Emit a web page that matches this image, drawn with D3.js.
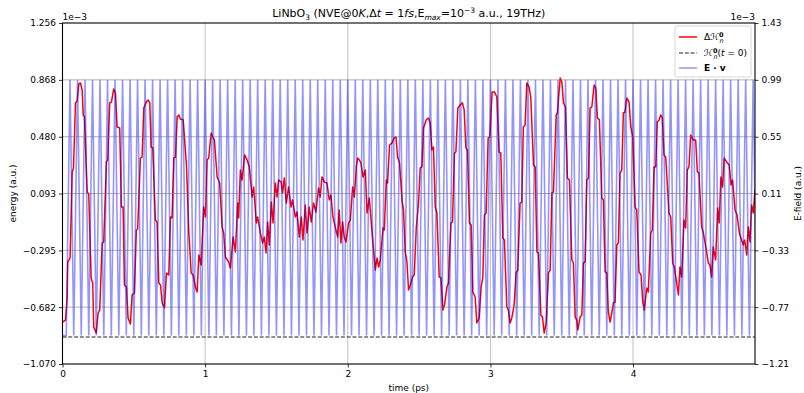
<!DOCTYPE html>
<html>
<head>
<meta charset="utf-8">
<script src="https://cdn.jsdelivr.net/npm/d3@7/dist/d3.min.js"></script>
<style>
  body { margin: 0; background: #fff; }
  svg { font-family: "DejaVu Sans", sans-serif; }
</style>
</head>
<body>
<div class="svgContainer"></div>
<script>
// axis ticks (energy and field in units of 1e-3)
const timeTicks = [0, 1, 2, 3, 4];
const energyTicks = [-1.070, -0.682, -0.295, 0.093, 0.480, 0.868, 1.256];
const fieldTicks = [-1.21, -0.77, -0.33, 0.11, 0.55, 0.99, 1.43];
const timeMax = 4.855;

// ΔH_n^0 (red)
const energyTime = [
  0.000,0.021,0.032,0.037,0.053,0.068,0.077,0.091,0.103,0.114,
  0.126,0.138,0.145,0.154,0.173,0.184,0.201,0.212,0.219,0.236,
  0.250,0.261,0.278,0.289,0.308,0.317,0.331,0.343,0.359,0.371,
  0.383,0.401,0.413,0.425,0.434,0.448,0.460,0.476,0.488,0.504,
  0.518,0.527,0.546,0.558,0.570,0.588,0.600,0.612,0.621,0.633,
  0.651,0.663,0.675,0.687,0.699,0.715,0.729,0.745,0.757,0.768,
  0.780,0.792,0.804,0.815,0.827,0.846,0.869,0.885,0.902,0.916,
  0.932,0.944,0.956,0.972,0.990,1.002,1.014,1.025,1.042,1.053,
  1.065,1.084,1.102,1.119,1.130,1.142,1.165,1.177,1.196,1.212,
  1.228,1.235,1.247,1.259,1.277,1.294,1.310,1.329,1.340,1.359,
  1.368,1.387,1.403,1.415,1.427,1.438,1.450,1.464,1.476,1.492,
  1.504,1.515,1.532,1.543,1.555,1.569,1.585,1.602,1.613,1.632,
  1.644,1.660,1.674,1.686,1.702,1.714,1.730,1.744,1.760,1.777,
  1.795,1.807,1.819,1.835,1.854,1.870,1.882,1.896,1.912,1.929,
  1.940,1.952,1.964,1.975,1.987,2.006,2.018,2.034,2.046,2.060,
  2.069,2.081,2.092,2.107,2.123,2.135,2.151,2.170,2.181,2.193,
  2.205,2.216,2.228,2.247,2.256,2.270,2.279,2.293,2.310,2.326,
  2.338,2.349,2.363,2.380,2.391,2.403,2.415,2.426,2.443,2.454,
  2.466,2.480,2.496,2.508,2.520,2.531,2.550,2.566,2.578,2.590,
  2.601,2.613,2.625,2.641,2.653,2.667,2.678,2.695,2.706,2.723,
  2.734,2.748,2.758,2.772,2.788,2.804,2.816,2.828,2.839,2.853,
  2.865,2.877,2.893,2.905,2.921,2.935,2.947,2.958,2.970,2.984,
  2.996,3.012,3.028,3.045,3.061,3.073,3.087,3.098,3.115,3.126,
  3.138,3.150,3.166,3.180,3.192,3.208,3.220,3.231,3.243,3.255,
  3.271,3.283,3.302,3.314,3.326,3.337,3.354,3.365,3.377,3.391,
  3.407,3.419,3.431,3.442,3.461,3.470,3.489,3.501,3.512,3.526,
  3.540,3.554,3.571,3.582,3.594,3.606,3.613,3.629,3.641,3.652,
  3.664,3.676,3.687,3.699,3.711,3.727,3.739,3.750,3.764,3.781,
  3.792,3.804,3.816,3.827,3.839,3.851,3.862,3.874,3.886,3.897,
  3.909,3.921,3.932,3.944,3.956,3.972,3.984,3.998,4.014,4.026,
  4.042,4.056,4.068,4.079,4.096,4.107,4.124,4.135,4.147,4.159,
  4.170,4.182,4.194,4.205,4.217,4.229,4.252,4.264,4.278,4.289,
  4.306,4.318,4.329,4.341,4.357,4.369,4.380,4.392,4.404,4.422,
  4.439,4.451,4.462,4.481,4.493,4.516,4.528,4.539,4.551,4.562,
  4.579,4.593,4.604,4.616,4.628,4.639,4.656,4.674,4.687,4.698,
  4.715,4.729,4.745,4.761,4.773,4.782,4.797,4.808,4.820,4.831,
  4.843,4.855
];
const energyValues = [
  -0.784,-0.770,-0.633,-0.374,-0.347,0.240,0.267,0.711,0.724,0.840,
  0.847,0.799,0.629,0.615,0.103,0.090,-0.483,-0.517,-0.818,-0.859,
  -0.722,-0.702,-0.245,-0.238,0.308,0.322,0.711,0.717,0.806,0.779,
  0.547,0.540,0.001,0.001,-0.531,-0.545,-0.756,-0.797,-0.599,-0.586,
  -0.156,-0.149,0.335,0.342,0.676,0.717,0.731,0.711,0.410,0.404,
  -0.088,-0.101,-0.517,-0.531,-0.654,-0.688,-0.449,-0.463,-0.067,-0.074,
  0.335,0.342,0.615,0.629,0.601,0.595,0.288,-0.156,-0.449,-0.463,
  -0.545,-0.579,-0.326,-0.395,0.001,-0.067,0.322,0.335,0.506,0.479,
  0.458,0.206,0.165,-0.135,-0.176,-0.340,-0.374,-0.415,-0.204,-0.306,
  0.028,-0.074,0.253,0.185,0.356,0.322,0.274,0.069,0.137,-0.108,
  -0.067,-0.176,-0.245,-0.204,-0.313,-0.101,-0.258,0.035,-0.108,0.165,
  0.069,0.185,0.172,0.097,0.199,0.028,0.137,0.001,0.049,-0.067,
  -0.033,-0.204,-0.067,-0.224,0.015,-0.176,0.001,-0.101,0.028,-0.033,
  0.131,0.069,0.206,0.172,0.165,0.049,0.083,-0.067,-0.135,-0.204,
  -0.019,-0.245,-0.101,-0.204,-0.238,-0.108,-0.088,0.137,0.069,0.274,
  0.335,0.322,0.301,0.206,0.253,-0.040,0.062,-0.170,-0.292,-0.429,
  -0.347,-0.408,-0.360,-0.142,-0.156,0.185,0.165,0.424,0.438,0.472,
  0.479,0.342,0.301,0.049,-0.019,-0.306,-0.374,-0.565,-0.517,-0.477,
  -0.463,-0.142,0.028,0.267,0.274,0.540,0.595,0.608,0.574,0.390,
  0.410,0.001,-0.040,-0.477,-0.483,-0.702,-0.668,-0.545,-0.517,-0.108,
  -0.101,0.369,0.376,0.676,0.697,0.711,0.663,0.404,0.390,-0.108,
  -0.122,-0.579,-0.613,-0.790,-0.756,-0.545,-0.477,-0.054,-0.040,0.472,
  0.479,0.786,0.786,0.751,0.376,0.369,-0.210,-0.224,-0.681,-0.702,
  -0.790,-0.756,-0.668,-0.449,-0.429,0.028,0.035,0.547,0.560,0.847,
  0.820,0.751,0.288,0.274,-0.306,-0.313,-0.736,-0.749,-0.859,-0.790,
  -0.449,-0.429,0.097,0.103,0.629,0.642,0.881,0.854,0.711,0.683,
  0.199,0.185,-0.360,-0.381,-0.749,-0.770,-0.838,-0.749,-0.736,-0.381,
  -0.374,0.185,0.199,0.676,0.683,0.833,0.813,0.608,0.595,0.062,
  0.049,-0.442,-0.449,-0.715,-0.784,-0.722,-0.654,-0.647,-0.258,-0.245,
  0.233,0.253,0.642,0.649,0.745,0.717,0.547,0.479,0.001,-0.019,
  -0.442,-0.463,-0.647,-0.702,-0.552,-0.579,-0.176,-0.156,0.274,0.274,
  0.581,0.595,0.629,0.608,0.356,0.342,-0.040,-0.067,-0.381,-0.408,
  -0.517,-0.599,-0.408,-0.477,-0.088,-0.142,0.253,0.274,0.492,0.458,
  0.458,0.240,0.233,-0.135,-0.176,-0.306,-0.381,-0.395,-0.477,-0.272,
  -0.360,-0.006,-0.108,0.206,0.137,0.335,0.308,0.288,0.151,0.185,
  -0.019,-0.054,-0.176,-0.224,-0.258,-0.224,-0.326,-0.135,-0.238,0.015,
  -0.040,0.117
];
// H_n^0(t=0) reference level (dashed)
const energyRef = -0.886;

// E·v (blue), sampled every half period of the 19 THz field
const fieldStep = 0.026316;
const fieldValues = [
  -0.99,-0.99,0.99,-0.99,0.99,-0.99,0.99,-0.99,0.99,-0.99,
  0.99,-0.99,0.99,-0.99,0.99,-0.99,0.99,-0.99,0.99,-0.99,
  0.99,-0.99,0.99,-0.99,0.99,-0.99,0.99,-0.99,0.99,-0.99,
  0.99,-0.99,0.99,-0.99,0.99,-0.99,0.99,-0.99,0.99,-0.99,
  0.99,-0.99,0.99,-0.99,0.99,-0.99,0.99,-0.99,0.99,-0.99,
  0.99,-0.99,0.99,-0.99,0.99,-0.99,0.99,-0.99,0.99,-0.99,
  0.99,-0.99,0.99,-0.99,0.99,-0.99,0.99,-0.99,0.99,-0.99,
  0.99,-0.99,0.99,-0.99,0.99,-0.99,0.99,-0.99,0.99,-0.99,
  0.99,-0.99,0.99,-0.99,0.99,-0.99,0.99,-0.99,0.99,-0.99,
  0.99,-0.99,0.99,-0.99,0.99,-0.99,0.99,-0.99,0.99,-0.99,
  0.99,-0.99,0.99,-0.99,0.99,-0.99,0.99,-0.99,0.99,-0.99,
  0.99,-0.99,0.99,-0.99,0.99,-0.99,0.99,-0.99,0.99,-0.99,
  0.99,-0.99,0.99,-0.99,0.99,-0.99,0.99,-0.99,0.99,-0.99,
  0.99,-0.99,0.99,-0.99,0.99,-0.99,0.99,-0.99,0.99,-0.99,
  0.99,-0.99,0.99,-0.99,0.99,-0.99,0.99,-0.99,0.99,-0.99,
  0.99,-0.99,0.99,-0.99,0.99,-0.99,0.99,-0.99,0.99,-0.99,
  0.99,-0.99,0.99,-0.99,0.99,-0.99,0.99,-0.99,0.99,-0.99,
  0.99,-0.99,0.99,-0.99,0.99,-0.99,0.99,-0.99,0.99,-0.99,
  0.99,-0.99,0.99,-0.99,0.99,-0.99
];

const width = 804;
const height = 393;
const margin = {left: 62.5, right: 49, top: 23, bottom: 29};
const plotW = width - margin.left - margin.right;
const plotH = height - margin.top - margin.bottom;

const svg = d3.select('.svgContainer').append('svg')
  .attr('width', width)
  .attr('height', height);

const scaleX = d3.scaleLinear().domain([0, timeMax]).range([0, plotW]);
const scaleY = d3.scaleLinear().domain([energyTicks[0], energyTicks[6]]).range([plotH, 0]);
const scaleY2 = d3.scaleLinear().domain([fieldTicks[0], fieldTicks[6]]).range([plotH, 0]);

const minus = s => s.replace('-', '\u2212');

svg.append('clipPath').attr('id', 'plotClip')
  .append('rect').attr('width', plotW).attr('height', plotH);

const g = svg.append('g')
  .attr('transform', 'translate(' + margin.left + ',' + margin.top + ')');

// vertical grid
g.append('g').selectAll('line')
  .data(timeTicks.slice(1))
  .enter().append('line')
  .attr('x1', d => scaleX(d)).attr('x2', d => scaleX(d))
  .attr('y1', 0).attr('y2', plotH)
  .attr('stroke', '#b0b0b0').attr('stroke-width', 0.8);

const body = g.append('g').attr('clip-path', 'url(#plotClip)');

// red energy line
const energyData = energyTime.map((t, i) => ({t: t, v: energyValues[i]}));
body.append('path')
  .datum(energyData)
  .attr('fill', 'none')
  .attr('stroke', '#ff0000')
  .attr('stroke-width', 1.5)
  .attr('stroke-linejoin', 'round')
  .attr('d', d3.line().x(d => scaleX(d.t)).y(d => scaleY(d.v)));

// dashed reference
body.append('line')
  .attr('x1', scaleX(0)).attr('x2', scaleX(timeMax))
  .attr('y1', scaleY(energyRef)).attr('y2', scaleY(energyRef))
  .attr('stroke', '#222').attr('stroke-width', 1.2)
  .attr('stroke-dasharray', '4,1.8');

// blue E.v
const fieldData = fieldValues.map((v, i) => ({t: i * fieldStep, v: v}));
body.append('path')
  .datum(fieldData)
  .attr('fill', 'none')
  .attr('stroke', '#0000ff')
  .attr('stroke-opacity', 0.42)
  .attr('stroke-width', 1.6)
  .attr('d', d3.line().x(d => scaleX(d.t)).y(d => scaleY2(d.v)));

// horizontal grid (drawn over the lines)
g.append('g').selectAll('line')
  .data(energyTicks.slice(1, 6))
  .enter().append('line')
  .attr('x1', 0).attr('x2', plotW)
  .attr('y1', d => scaleY(d)).attr('y2', d => scaleY(d))
  .attr('stroke', '#707070').attr('stroke-opacity', 0.7).attr('stroke-width', 0.8);

// axes
const styleAxis = sel => {
  sel.select('.domain').remove();
  sel.selectAll('.tick line').attr('stroke', '#000').attr('stroke-width', 0.8);
  sel.selectAll('.tick text').attr('fill', '#000').style('font-size', '9px')
    .style('font-family', '"DejaVu Sans", sans-serif');
};

g.append('g')
  .attr('transform', 'translate(0,' + plotH + ')')
  .call(d3.axisBottom(scaleX).tickValues(timeTicks).tickSize(3.5).tickPadding(3).tickFormat(d3.format('d')))
  .call(styleAxis);

g.append('g')
  .call(d3.axisLeft(scaleY).tickValues(energyTicks).tickSize(3.5).tickPadding(3)
    .tickFormat(d => minus(d.toFixed(3))))
  .call(styleAxis);

g.append('g')
  .attr('transform', 'translate(' + plotW + ',0)')
  .call(d3.axisRight(scaleY2).tickValues(fieldTicks).tickSize(3.5).tickPadding(3)
    .tickFormat(d => minus(d.toFixed(2))))
  .call(styleAxis);

// spines
g.append('rect')
  .attr('width', plotW).attr('height', plotH)
  .attr('fill', 'none').attr('stroke', '#000').attr('stroke-width', 1.1);

// offset texts
g.append('text').attr('x', 0).attr('y', -3)
  .style('font-size', '9px').text('1e\u22123');
g.append('text').attr('x', plotW).attr('y', -3)
  .attr('text-anchor', 'end').style('font-size', '9px').text('1e\u22123');

// labels
svg.append('text')
  .attr('x', margin.left + plotW / 2).attr('y', 391)
  .attr('text-anchor', 'middle').style('font-size', '9px')
  .text('time (ps)');

svg.append('text')
  .attr('transform', 'translate(16,' + (margin.top + plotH / 2) + ') rotate(-90)')
  .attr('text-anchor', 'middle').style('font-size', '9px')
  .text('energy (a.u.)');

svg.append('text')
  .attr('transform', 'translate(801,' + (margin.top + plotH / 2) + ') rotate(-90)')
  .attr('text-anchor', 'middle').style('font-size', '9px')
  .text('E-field (a.u.)');

// title
const title = svg.append('text')
  .attr('x', margin.left + plotW / 2).attr('y', 17)
  .attr('text-anchor', 'middle').style('font-size', '11px');
title.append('tspan').text('LiNbO');
title.append('tspan').attr('dy', 2.5).style('font-size', '7.5px').text('3');
title.append('tspan').attr('dy', -2.5).text(' (NVE@0');
title.append('tspan').style('font-style', 'italic').text('K');
title.append('tspan').text(',\u0394');
title.append('tspan').style('font-style', 'italic').text('t');
title.append('tspan').text(' = 1');
title.append('tspan').style('font-style', 'italic').text('fs');
title.append('tspan').text(',E');
title.append('tspan').attr('dy', 2.5).style('font-size', '7.5px').style('font-style', 'italic').text('max');
title.append('tspan').attr('dy', -2.5).text('=10');
title.append('tspan').attr('dy', -4).style('font-size', '7.5px').text('\u22123');
title.append('tspan').attr('dy', 4).text(' a.u., 19THz)');

// legend
const legend = g.append('g').attr('transform', 'translate(' + (plotW - 80) + ',3)');
legend.append('rect')
  .attr('width', 76).attr('height', 51).attr('rx', 2)
  .attr('fill', '#fff').attr('fill-opacity', 0.8)
  .attr('stroke', '#cccccc').attr('stroke-width', 0.8);

const rows = [
  {y: 11, color: '#ff0000', dash: null, opacity: 1},
  {y: 27, color: '#222', dash: '4,1.8', opacity: 1},
  {y: 42, color: '#0000ff', dash: null, opacity: 0.42}
];
rows.forEach(r => {
  legend.append('line')
    .attr('x1', 4).attr('x2', 22).attr('y1', r.y).attr('y2', r.y)
    .attr('stroke', r.color).attr('stroke-opacity', r.opacity)
    .attr('stroke-width', r.dash ? 1.2 : 1.5)
    .attr('stroke-dasharray', r.dash);
});

// calligraphic H with bold 0 on top and italic n below
const hLabel = (sel) => {
  sel.append('tspan').text('\u210B');
  sel.append('tspan').attr('dy', -3.5).style('font-size', '6.5px').style('font-weight', 'bold').text('0');
  sel.append('tspan').attr('dx', -4).attr('dy', 6.5).style('font-size', '6.5px').style('font-style', 'italic').text('n');
};

const l1 = legend.append('text').attr('x', 29).attr('y', 14).style('font-size', '9px');
l1.append('tspan').text('\u0394');
hLabel(l1);

const l2 = legend.append('text').attr('x', 29).attr('y', 30).style('font-size', '9px');
hLabel(l2);
l2.append('tspan').attr('dy', -3).text('(');
l2.append('tspan').style('font-style', 'italic').text('t');
l2.append('tspan').text(' = 0)');

legend.append('text').attr('x', 29).attr('y', 45)
  .style('font-size', '9px').style('font-weight', 'bold')
  .text('E \u00B7 v');
</script>
</body>
</html>
